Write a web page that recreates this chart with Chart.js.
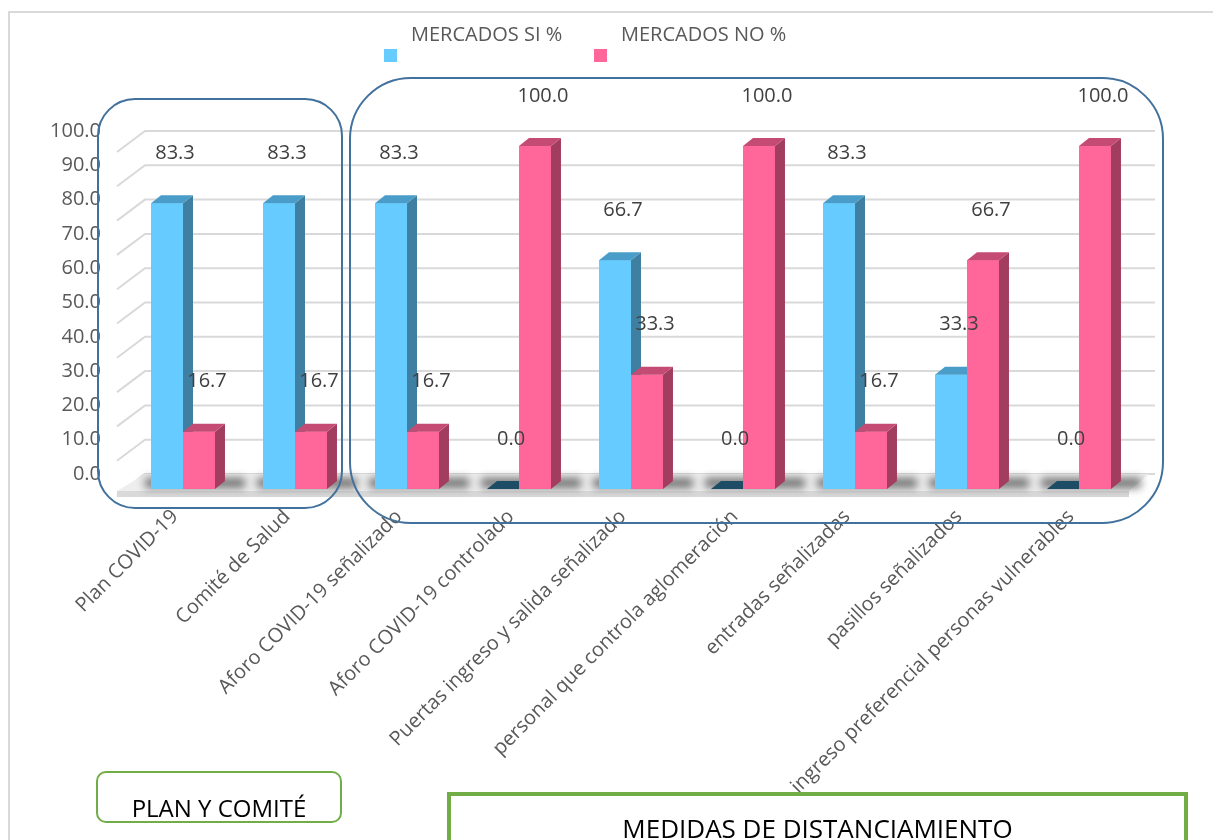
<!DOCTYPE html>
<html lang="es">
<head>
<meta charset="utf-8">
<title>Mercados - medidas COVID-19</title>
<script src="https://cdn.jsdelivr.net/npm/chart.js@4.4.1/dist/chart.umd.min.js"></script>
<style>
  html, body { margin: 0; padding: 0; background: #fff; }
  #wrap { position: relative; width: 1213px; height: 840px; overflow: hidden; font-family: "Open Sans", sans-serif; }
  #marco { position: absolute; left: 8px; top: 11px; width: 1240px; height: 880px; border: 2px solid #d9d9d9; }
  #grafico { position: absolute; left: 0; top: 0; }
  .grupo { position: absolute; box-sizing: border-box; border: 2.5px solid #41719c; }
  .caja { position: absolute; box-sizing: border-box; color: #000; text-align: center; }
</style>
</head>
<body>
<div id="wrap">
  <div id="marco"></div>
  <canvas id="grafico" width="1213" height="840"></canvas>

  <div class="grupo" style="left:97px; top:98px; width:246px; height:411px; border-radius:38px;"></div>
  <div class="grupo" style="left:349px; top:77px; width:815px; height:447px; border-radius:62px;"></div>

  <div class="caja" style="left:96px; top:771px; width:246px; height:52px; border:2.5px solid #70ad47; border-radius:10px; font-size:24px; line-height:24px; padding-top:23px;">PLAN Y COMITÉ</div>
  <div class="caja" style="left:447px; top:792px; width:741px; height:80px; border:4px solid #70ad47; font-size:26px; line-height:26px; padding-top:19px;">MEDIDAS DE DISTANCIAMIENTO</div>
</div>

<script>
const categorias = [
  'Plan COVID-19',
  'Comité de Salud',
  'Aforo COVID-19 señalizado',
  'Aforo COVID-19 controlado',
  'Puertas ingreso y salida señalizado',
  'personal que controla aglomeración',
  'entradas señalizadas',
  'pasillos señalizados',
  'ingreso preferencial personas vulnerables'
];
const mercadosSi = [83.3, 83.3, 83.3, 0.0, 66.7, 0.0, 83.3, 33.3, 0.0];
const mercadosNo = [16.7, 16.7, 16.7, 100.0, 33.3, 100.0, 16.7, 66.7, 100.0];
const marcasY = [0, 10, 20, 30, 40, 50, 60, 70, 80, 90, 100];

// colores de cada serie: cara frontal, techo, lateral y barra en cero
const caras = [
  { frente: '#66ccff', techo: '#4a9dc9', lado: '#3f7fa2', cero: '#1d4d66' },
  { frente: '#ff6699', techo: '#c44b73', lado: '#a33d5f', cero: '#7a2a45' }
];
const prof = { dx: 10, dy: 8 };   // profundidad de las barras
const fondo = { dx: 18, dy: 15 }; // desplazamiento de la pared del fondo

const fuente = '"Open Sans", sans-serif';

function caraBarra(ctx, b, c, valor) {
  const izq = b.x - b.width / 2, der = b.x + b.width / 2;
  const top = b.y, base = b.base;
  ctx.fillStyle = c.frente;
  ctx.fillRect(izq, top, der - izq, base - top);
  if (valor > 0) {
    ctx.fillStyle = c.lado;
    ctx.beginPath();
    ctx.moveTo(der, top);
    ctx.lineTo(der + prof.dx, top - prof.dy);
    ctx.lineTo(der + prof.dx, base - prof.dy);
    ctx.lineTo(der, base);
    ctx.closePath();
    ctx.fill();
  }
  ctx.fillStyle = valor > 0 ? c.techo : c.cero;
  ctx.beginPath();
  ctx.moveTo(izq, top);
  ctx.lineTo(der, top);
  ctx.lineTo(der + prof.dx, top - prof.dy);
  ctx.lineTo(izq + prof.dx, top - prof.dy);
  ctx.closePath();
  ctx.fill();
}

const barras3d = {
  id: 'barras3d',
  beforeDatasetsDraw(chart) {
    const ctx = chart.ctx, a = chart.chartArea, ys = chart.scales.y;
    const base = ys.getPixelForValue(0);
    ctx.save();

    // pared del fondo con sus líneas
    ctx.strokeStyle = '#d9d9d9';
    ctx.lineWidth = 2;
    marcasY.forEach(v => {
      const yb = ys.getPixelForValue(v) - fondo.dy;
      ctx.beginPath();
      ctx.moveTo(a.left - 10, yb + 21);
      ctx.lineTo(a.left + fondo.dx, yb);
      ctx.lineTo(a.right + 20, yb);
      ctx.stroke();
    });

    // piso
    ctx.fillStyle = '#eeeeee';
    ctx.beginPath();
    ctx.moveTo(a.left - 10, base + 2);
    ctx.lineTo(a.right - 6, base + 2);
    ctx.lineTo(a.right + 14, base - fondo.dy);
    ctx.lineTo(a.left + fondo.dx, base - fondo.dy);
    ctx.closePath();
    ctx.fill();
    ctx.fillStyle = '#d9d9d9';
    ctx.fillRect(a.left - 10, base + 2, a.right - a.left + 4, 6);

    // sombra bajo cada par de barras
    const m0 = chart.getDatasetMeta(0).data, m1 = chart.getDatasetMeta(1).data;
    ctx.filter = 'blur(4px)';
    ctx.fillStyle = 'rgba(30,30,30,0.6)';
    m0.forEach((b, i) => {
      const izq = b.x - b.width / 2;
      const der = m1[i].x + m1[i].width / 2;
      ctx.fillRect(izq - 6, base - 11, der - izq + 36, 10);
    });
    ctx.filter = 'none';
    ctx.restore();
  },
  afterDatasetsDraw(chart) {
    const ctx = chart.ctx;
    ctx.save();
    // caras en orden de serie: la segunda tapa el lateral de la primera
    chart.data.datasets.forEach((ds, d) => {
      chart.getDatasetMeta(d).data.forEach((b, i) => caraBarra(ctx, b, caras[d], ds.data[i]));
    });

    ctx.font = '20px ' + fuente;
    ctx.fillStyle = '#404040';
    ctx.textAlign = 'center';
    ctx.textBaseline = 'middle';
    chart.data.datasets.forEach((ds, d) => {
      chart.getDatasetMeta(d).data.forEach((b, i) => {
        ctx.fillText(ds.data[i].toFixed(1), b.x + 8, b.y - 50);
      });
    });
    ctx.restore();
  },
  afterDraw(chart) {
    // leyenda: texto arriba, cuadro de color debajo a la izquierda
    const ctx = chart.ctx;
    ctx.save();
    ctx.font = '20px ' + fuente;
    ctx.textBaseline = 'middle';
    ctx.textAlign = 'left';
    chart.data.datasets.forEach((ds, d) => {
      const x0 = 384 + d * 210;
      ctx.fillStyle = ds.backgroundColor;
      ctx.fillRect(x0, 49, 13, 13);
      ctx.fillStyle = '#595959';
      ctx.fillText(ds.label, x0 + 27, 35);
    });
    ctx.restore();
  }
};

new Chart(document.getElementById('grafico'), {
  type: 'bar',
  data: {
    labels: categorias,
    datasets: [
      { label: 'MERCADOS SI %', data: mercadosSi, backgroundColor: caras[0].frente },
      { label: 'MERCADOS NO %', data: mercadosNo, backgroundColor: caras[1].frente }
    ]
  },
  options: {
    responsive: false,
    animation: false,
    devicePixelRatio: 1,
    layout: { padding: { top: 146, right: 78, bottom: 0, left: 0 } },
    datasets: { bar: { barPercentage: 1, categoryPercentage: 0.571 } },
    plugins: { legend: { display: false }, tooltip: { enabled: false } },
    scales: {
      x: {
        grid: { display: false, drawTicks: false },
        border: { display: false },
        afterFit: s => { s.height = 351; },
        ticks: {
          autoSkip: false,
          minRotation: 45,
          maxRotation: 45,
          padding: 16,
          labelOffset: -8,
          color: '#595959',
          font: { family: fuente, size: 20 }
        }
      },
      y: {
        min: 0,
        max: 100,
        grid: { display: false, drawTicks: false },
        border: { display: false },
        afterFit: s => { s.width = 127; },
        afterBuildTicks: s => { s.ticks = marcasY.map(v => ({ value: v })); },
        ticks: {
          padding: 26,
          labelOffset: -15,
          color: '#595959',
          font: { family: fuente, size: 20 },
          callback: v => Number(v).toFixed(1)
        }
      }
    }
  },
  plugins: [barras3d]
});
</script>
</body>
</html>
